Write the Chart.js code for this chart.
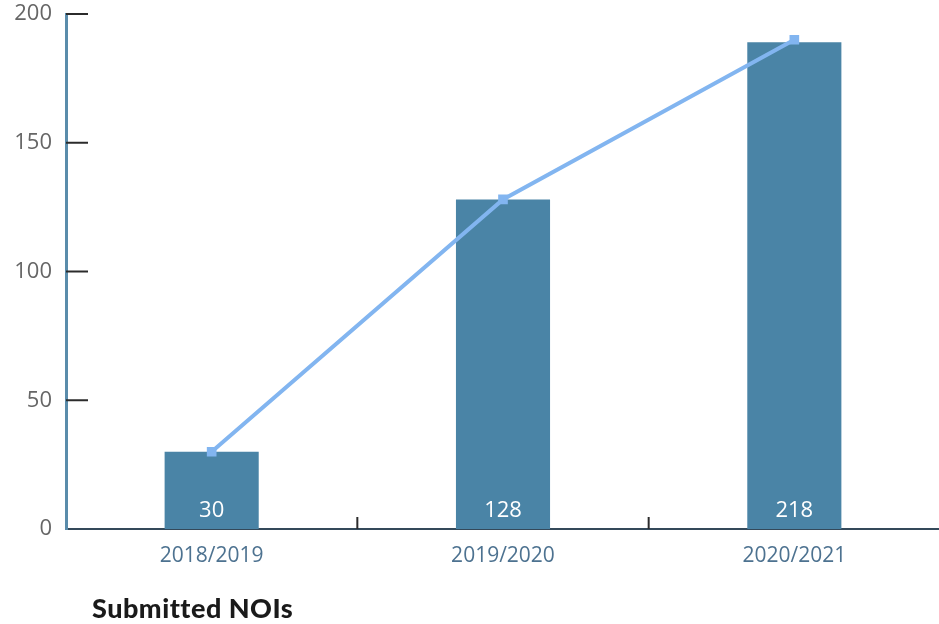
<!DOCTYPE html>
<html>
<head>
<meta charset="utf-8">
<script src="https://cdn.jsdelivr.net/npm/chart.js@4/dist/chart.umd.min.js"></script>
<style>
  body { margin: 0; background: #fff; overflow: hidden; }
  #wrap { position: relative; width: 939px; height: 624px; overflow: hidden; }
  #chart { display: block; }
  #title { position: absolute; left: 92px; top: 591px; font: 900 27px Lato, sans-serif; letter-spacing: 0.5px; color: #1a1a1a; }
</style>
</head>
<body>
<div id="wrap">
  <canvas id="chart" width="948" height="624"></canvas>
  <div id="title">Submitted NOIs</div>
</div>
<script>
const categories = ['2018/2019', '2019/2020', '2020/2021'];
const barValues = [30, 128, 189];
const lineValues = [30, 128, 190];
const valueLabels = ['30', '128', '218'];
const yTicks = [0, 50, 100, 150, 200];

// short inside ticks on the y axis, little marks between categories, labels in bars
const extras = {
  id: 'extras',
  afterDatasetsDraw(chart) {
    const ctx = chart.ctx;
    const y = chart.scales.y;
    const x = chart.scales.x;
    const area = chart.chartArea;
    ctx.save();
    ctx.strokeStyle = '#2b2b2b';
    ctx.lineWidth = 2;
    yTicks.forEach(v => {
      if (v === 0) return;
      const py = y.getPixelForValue(v);
      ctx.beginPath();
      ctx.moveTo(area.left, py);
      ctx.lineTo(area.left + 22, py);
      ctx.stroke();
    });
    for (let i = 1; i < categories.length; i++) {
      const px = (x.getPixelForValue(i - 1) + x.getPixelForValue(i)) / 2;
      ctx.beginPath();
      ctx.moveTo(px, area.bottom);
      ctx.lineTo(px, area.bottom - 12);
      ctx.stroke();
    }
    const bars = chart.getDatasetMeta(1).data;
    ctx.fillStyle = '#ffffff';
    ctx.font = '500 22px "Open Sans", sans-serif';
    ctx.textAlign = 'center';
    ctx.textBaseline = 'middle';
    bars.forEach((b, i) => {
      ctx.fillText(valueLabels[i], b.x, area.bottom - 18);
    });
    ctx.restore();
  }
};

new Chart(document.getElementById('chart'), {
  data: {
    labels: categories,
    datasets: [
      {
        type: 'line',
        data: lineValues,
        borderColor: '#82b5f0',
        backgroundColor: '#82b5f0',
        borderWidth: 4,
        pointStyle: 'rect',
        pointRadius: 4,
        tension: 0,
        order: 0
      },
      {
        type: 'bar',
        data: barValues,
        backgroundColor: '#4a84a6',
        categoryPercentage: 1,
        barPercentage: 0.323,
        order: 1
      }
    ]
  },
  options: {
    responsive: false,
    animation: false,
    layout: { padding: { top: 14, right: 0, left: 0, bottom: 0 } },
    plugins: { legend: { display: false }, tooltip: { enabled: false } },
    scales: {
      x: {
        offset: true,
        grid: { display: false, drawTicks: false },
        border: { display: true, color: '#34495a', width: 2 },
        ticks: { color: '#4d7290', font: { size: 21, family: '"Open Sans", sans-serif' }, padding: 14 },
        afterFit(s) { s.height = 95; s.paddingLeft = 0; s.paddingRight = 0; }
      },
      y: {
        min: 0,
        max: 200,
        afterBuildTicks(s) { s.ticks = yTicks.map(v => ({ value: v })); },
        grid: { display: false, drawTicks: false },
        border: { display: true, color: '#5a8cab', width: 3 },
        ticks: { color: '#666', font: { size: 22, family: '"Open Sans", sans-serif' }, padding: 14 },
        afterFit(s) { s.width = 66; s.paddingTop = 0; s.paddingBottom = 0; }
      }
    }
  },
  plugins: [extras]
});
</script>
</body>
</html>
